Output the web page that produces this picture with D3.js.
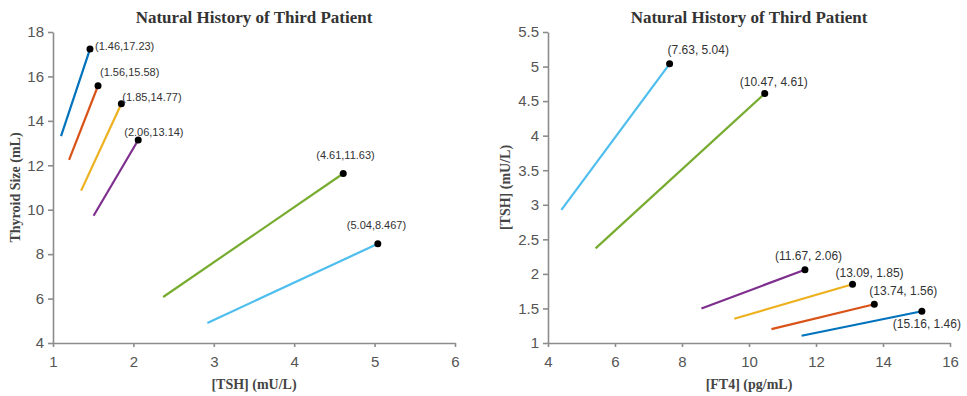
<!DOCTYPE html>
<html>
<head>
<meta charset="utf-8">
<script src="https://cdn.jsdelivr.net/npm/d3@7"></script>
<style>
  body { margin: 0; background: #fff; }
  .tick text { font-family: "Liberation Sans", Arial, sans-serif; font-size: 15px; fill: #555; }
  .domain, .tick line { stroke: #8c8c8c; stroke-width: 1.6px; }
  .title { font-family: "Liberation Serif", "Times New Roman", serif; font-weight: bold; font-size: 17px; fill: #333; }
  .alabel { font-family: "Liberation Serif", "Times New Roman", serif; font-weight: bold; font-size: 14px; fill: #444; }
  .note { font-family: "Liberation Sans", Arial, sans-serif; fill: #333; }
</style>
</head>
<body>
<div id="chart"></div>
<script>
// series colours (matlab default order)
var colors = ["#0072BD", "#D95319", "#EDB120", "#7E2F8E", "#77AC30", "#4DBEEE"];

// left panel: TSH vs thyroid size, [start, end] per visit
var tshStart  = [1.10, 1.20, 1.35, 1.505, 2.37, 2.92];
var sizeStart = [13.31, 12.24, 10.86, 9.73, 6.07, 4.90];
var tshEnd    = [1.46, 1.56, 1.85, 2.06, 4.61, 5.04];
var sizeEnd   = [17.23, 15.58, 14.77, 13.14, 11.63, 8.467];
var leftLabels = ["(1.46,17.23)", "(1.56,15.58)", "(1.85,14.77)", "(2.06,13.14)", "(4.61,11.63)", "(5.04,8.467)"];

// right panel: FT4 vs TSH
var ft4Start  = [11.57, 10.67, 9.56, 8.58, 5.42, 4.40];
var tsh2Start = [1.105, 1.20, 1.35, 1.50, 2.37, 2.925];
var ft4End    = [15.16, 13.74, 13.09, 11.67, 10.47, 7.63];
var tsh2End   = [1.46, 1.56, 1.85, 2.06, 4.61, 5.04];
var rightLabels = ["(15.16, 1.46)", "(13.74, 1.56)", "(13.09, 1.85)", "(11.67, 2.06)", "(10.47, 4.61)", "(7.63, 5.04)"];

var leftXTicks = [1, 2, 3, 4, 5, 6];
var leftYTicks = [4, 6, 8, 10, 12, 14, 16, 18];
var rightXTicks = [4, 6, 8, 10, 12, 14, 16];
var rightYTicks = [1, 1.5, 2, 2.5, 3, 3.5, 4, 4.5, 5, 5.5];

// label offsets from the end dot (px)
var leftOffsets = [[5, -3], [2, -14], [1, -7], [-14, -8], [-27, -18], [-31, -19]];
var rightOffsets = [[-29, 13], [-5, -13], [-17, -11], [-30, -14], [-25, -12], [-2, -14]];

var W = 967, H = 396;
var svg = d3.select("#chart").append("svg").attr("width", W).attr("height", H);

function panel(opt) {
  var x = d3.scaleLinear().domain(opt.xDomain).range([opt.left, opt.right]);
  var y = d3.scaleLinear().domain(opt.yDomain).range([opt.bottom, opt.top]);
  var g = svg.append("g");

  g.append("g")
    .attr("transform", "translate(0," + opt.bottom + ")")
    .call(d3.axisBottom(x).tickValues(opt.xTicks).tickSize(4).tickSizeOuter(0).tickPadding(9).tickFormat(d3.format("")));
  g.append("g")
    .attr("transform", "translate(" + opt.left + ",0)")
    .call(d3.axisLeft(y).tickValues(opt.yTicks).tickSize(5).tickSizeOuter(0).tickPadding(4).tickFormat(d3.format("")));

  var segs = opt.x0.map(function (d, i) {
    return { x0: d, y0: opt.y0[i], x1: opt.x1[i], y1: opt.y1[i], label: opt.labels[i], off: opt.offsets[i], c: colors[opt.colorIdx[i]] };
  });

  g.selectAll("line.seg").data(segs).enter().append("line")
    .attr("class", "seg")
    .attr("x1", function (d) { return x(d.x0); })
    .attr("y1", function (d) { return y(d.y0); })
    .attr("x2", function (d) { return x(d.x1); })
    .attr("y2", function (d) { return y(d.y1); })
    .attr("stroke", function (d) { return d.c; })
    .attr("stroke-width", 2.2);

  g.selectAll("circle").data(segs).enter().append("circle")
    .attr("cx", function (d) { return x(d.x1); })
    .attr("cy", function (d) { return y(d.y1); })
    .attr("r", 3.5)
    .attr("fill", "#000");

  g.selectAll("text.note").data(segs).enter().append("text")
    .attr("class", "note")
    .attr("font-size", opt.noteSize)
    .attr("x", function (d) { return x(d.x1) + d.off[0]; })
    .attr("y", function (d) { return y(d.y1) + d.off[1]; })
    .attr("dy", "0.35em")
    .text(function (d) { return d.label; });

  var cx = (opt.left + opt.right) / 2;
  g.append("text").attr("class", "title").attr("x", cx).attr("y", 23)
    .attr("text-anchor", "middle").text("Natural History of Third Patient");
  g.append("text").attr("class", "alabel").attr("x", cx).attr("y", 389)
    .attr("text-anchor", "middle").text(opt.xLabel);
  g.append("text").attr("class", "alabel")
    .attr("transform", "translate(" + opt.yLabelX + "," + ((opt.top + opt.bottom) / 2) + ") rotate(-90)")
    .attr("text-anchor", "middle").text(opt.yLabel);
}

panel({
  left: 53, right: 455, top: 32, bottom: 343,
  xDomain: [1, 6], yDomain: [4, 18],
  xTicks: leftXTicks, yTicks: leftYTicks,
  x0: tshStart, y0: sizeStart, x1: tshEnd, y1: sizeEnd,
  labels: leftLabels, offsets: leftOffsets, colorIdx: [0, 1, 2, 3, 4, 5],
  noteSize: 11,
  xLabel: "[TSH] (mU/L)", yLabel: "Thyroid Size (mL)", yLabelX: 20
});

panel({
  left: 548, right: 950, top: 32, bottom: 343,
  xDomain: [4, 16], yDomain: [1, 5.5],
  xTicks: rightXTicks, yTicks: rightYTicks,
  x0: ft4Start, y0: tsh2Start, x1: ft4End, y1: tsh2End,
  labels: rightLabels, offsets: rightOffsets, colorIdx: [0, 1, 2, 3, 4, 5],
  noteSize: 12,
  xLabel: "[FT4] (pg/mL)", yLabel: "[TSH] (mU/L)", yLabelX: 510
});
</script>
</body>
</html>
